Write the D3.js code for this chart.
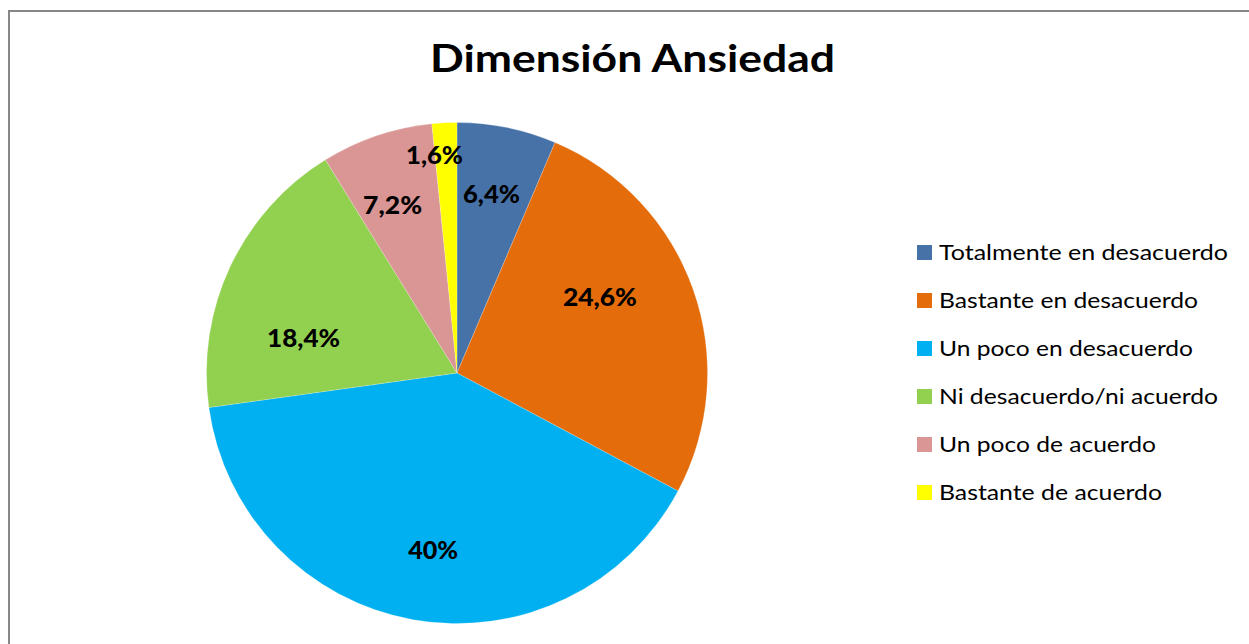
<!DOCTYPE html>
<html><head><meta charset="utf-8">
<script src="https://cdn.jsdelivr.net/npm/d3@7"></script>
<style>html,body{margin:0;padding:0;background:#fff;overflow:hidden}</style>
</head><body>
<svg id="c" width="1249" height="644" style="display:block"></svg>
<script>
const title = "Dimensión Ansiedad";
const categories = ["Totalmente en desacuerdo","Bastante en desacuerdo","Un poco en desacuerdo","Ni desacuerdo/ni acuerdo","Un poco de acuerdo","Bastante de acuerdo"];
const values = [6.4, 26.4, 40, 18.4, 7.2, 1.6];
const valueLabels = ["6,4%","24,6%","40%","18,4%","7,2%","1,6%"];
const colors = ["#4672A8","#E46C0A","#00B0F0","#92D050","#D99694","#FFFF00"];

// label layout (Excel "best fit" placement): radius fraction and angle shift in degrees
const labelRadiusFrac = [0.727,0.647,0.713,0.628,0.72,0.875];
const labelAngleShift = [-0.6,-8.7,-2.4,-12.4,-2.2,-3.0];

const svg = d3.select("#c");
const W = 1249, H = 644;
svg.append("rect").attr("x",0).attr("y",0).attr("width",W).attr("height",H).attr("fill","#fff");
// chart-area border (only top/left edges fall inside the frame)
svg.append("line").attr("x1",9).attr("x2",9).attr("y1",10).attr("y2",H)
  .attr("stroke","#878787").attr("stroke-width",2);
svg.append("line").attr("x1",8).attr("x2",W).attr("y1",11).attr("y2",11)
  .attr("stroke","#878787").attr("stroke-width",2);

svg.append("text").attr("x",632.5).attr("y",72).attr("text-anchor","middle")
  .attr("font-family","Lato, 'Open Sans', sans-serif").attr("font-weight","bold")
  .attr("font-size",38).attr("fill","#000")
  .attr("textLength",405).attr("lengthAdjust","spacingAndGlyphs")
  .text(title);

const cx = 457, cy = 373, R = 250.5;
const pie = d3.pie().sort(null).value(d=>d)(values);
const arc = d3.arc().innerRadius(0).outerRadius(R);
const g = svg.append("g").attr("transform",`translate(${cx},${cy})`);
g.selectAll("path").data(pie).join("path")
  .attr("d",arc).attr("fill",(d,i)=>colors[i])
  .attr("stroke","#fff").attr("stroke-width",0.4).attr("stroke-opacity",0.5);

const labelWidths = [57,74,50,73,59,57];
g.selectAll("text.lbl").data(pie).join("text").attr("class","lbl")
  .each(function(d,i){
    const a = (d.startAngle+d.endAngle)/2 + labelAngleShift[i]*Math.PI/180;
    const r = R*labelRadiusFrac[i];
    d3.select(this).attr("x", r*Math.sin(a)).attr("y", -r*Math.cos(a));
  })
  .attr("dy","0.36em").attr("text-anchor","middle")
  .attr("font-family","Lato, 'Open Sans', sans-serif").attr("font-weight","900")
  .attr("font-size",25.5).attr("fill","#000")
  .attr("textLength",(d,i)=>labelWidths[i]).attr("lengthAdjust","spacingAndGlyphs")
  .text((d,i)=>valueLabels[i]);

const legendWidths = [289,259,254,279,217,223];
const ly = d3.scalePoint().domain(categories).range([245,485]);
const lg = svg.append("g");
lg.selectAll("rect").data(categories).join("rect")
  .attr("x",917).attr("y",d=>ly(d)).attr("width",15).attr("height",15)
  .attr("fill",(d,i)=>colors[i]);
lg.selectAll("text").data(categories).join("text")
  .attr("x",939).attr("y",d=>ly(d)+14.5)
  .attr("font-family","Lato, 'Open Sans', sans-serif").attr("font-size",21.5).attr("fill","#000")
  .attr("textLength",(d,i)=>legendWidths[i]).attr("lengthAdjust","spacingAndGlyphs")
  .text(d=>d);
</script>
</body></html>
